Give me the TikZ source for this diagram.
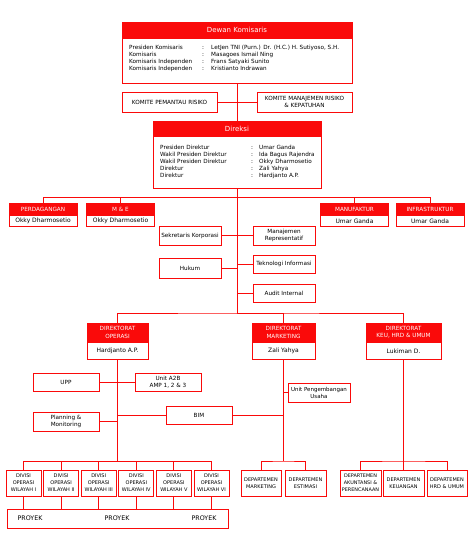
\documentclass[tikz,border=0pt]{standalone}
\usepackage{fontspec}
\setmainfont{DejaVu Sans}
\definecolor{orgred}{HTML}{FA0A0A}
\tikzset{
  link/.style={draw=orgred, line width=0.9pt},
  bodybox/.style={draw=orgred, line width=0.9pt, fill=white, inner sep=1pt, align=center, font=\fontsize{5.7}{7}\selectfont},
  headbox/.style={draw=orgred, line width=0.9pt, fill=orgred, text=white, inner sep=1pt, align=center, font=\fontsize{5.7}{7.3}\selectfont},
  plain/.style={inner sep=0pt, align=center, font=\fontsize{5.7}{7}\selectfont},
  smallbox/.style={bodybox, minimum height=26pt, font=\fontsize{5}{7}\selectfont},
}
\begin{document}
\begin{tikzpicture}[x=1pt, y=-1pt]
    \useasboundingbox (0,0) rectangle (474,550);
    % Draw the board of commissioners and its committees.
    \node[bodybox, minimum width=230pt, minimum height=61pt] (dekom) at (237,52.5) {};
    \node[headbox, minimum width=230pt, minimum height=16pt, anchor=north, font=\fontsize{7}{8}\selectfont] (dekomh) at (dekom.north) {Dewan Komisaris};
    \node[plain, anchor=west] (dekomlist) at (129,58.5) {\begin{tabular}{@{}p{73pt}@{}p{9pt}@{}l@{}}
      Presiden Komisaris & : & LetJen TNI (Purn.) Dr. (H.C.) H. Sutiyoso, S.H.\\
      Komisaris & : & Masagoes Ismail Ning\\
      Komisaris Independen & : & Frans Satyaki Sunito\\
      Komisaris Independen & : & Kristianto Indrawan
    \end{tabular}};
    \node[bodybox, minimum width=95pt, minimum height=20pt] (kpr) at (169.5,102) {KOMITE PEMANTAU RISIKO};
    \node[bodybox, minimum width=95pt, minimum height=20pt] (kmr) at (304.5,102) {KOMITE MANAJEMEN RISIKO\\\& KEPATUHAN};
    % Draw the board of directors.
    \node[bodybox, minimum width=168pt, minimum height=67pt] (direksi) at (237,154.5) {};
    \node[headbox, minimum width=168pt, minimum height=15pt, anchor=north, font=\fontsize{7}{8}\selectfont] (direksih) at (direksi.north) {Direksi};
    \node[plain, anchor=west] (direksilist) at (160,162) {\begin{tabular}{@{}p{91pt}@{}p{8pt}@{}l@{}}
      Presiden Direktur & : & Umar Ganda\\
      Wakil Presiden Direktur & : & Ida Bagus Rajendra\\
      Wakil Presiden Direktur & : & Okky Dharmosetio\\
      Direktur & : & Zali Yahya\\
      Direktur & : & Hardjanto A.P.
    \end{tabular}};
    % Business lines under the directors.
    \foreach \nm/\cx/\ttl/\who in {perd/43/PERDAGANGAN/Okky Dharmosetio, me/120.5/{M \& E}/Okky Dharmosetio, manu/354.5/MANUFAKTUR/Umar Ganda, infra/430/INFRASTRUKTUR/Umar Ganda} {
      \node[bodybox, minimum width=68pt, minimum height=23pt] (\nm) at (\cx,214.5) {};
      \node[headbox, minimum width=68pt, minimum height=12pt, anchor=north] (\nm h) at (\nm.north) {\ttl};
      \node[plain, font=\fontsize{6}{7}\selectfont] (\nm n) at ([yshift=5.5pt]\nm.south) {\who};
    }
    % Staff units along the main trunk.
    \node[bodybox, minimum width=62pt, minimum height=19pt] (sek) at (190,235.5) {Sekretaris Korporasi};
    \node[bodybox, minimum width=62pt, minimum height=20pt] (hukum) at (190,268) {Hukum};
    \node[bodybox, minimum width=62pt, minimum height=19pt] (manrep) at (284,235.5) {Manajemen\\Representatif};
    \node[bodybox, minimum width=62pt, minimum height=18pt] (ti) at (284,264) {Teknologi Informasi};
    \node[bodybox, minimum width=62pt, minimum height=18pt] (audit) at (284,293) {Audit Internal};
    % The three directorates.
    \foreach \nm/\cx/\bw/\ttl/\who in {dirop/117.5/61/{DIREKTORAT\\OPERASI}/Hardjanto A.P., dirmkt/283.5/63/{DIREKTORAT\\MARKETING}/Zali Yahya, dirkeu/403.5/75/{DIREKTORAT\\KEU, HRD \& UMUM}/Lukiman D.} {
      \node[bodybox, minimum width=\bw pt, minimum height=36pt] (\nm) at (\cx,341) {};
      \node[headbox, minimum width=\bw pt, minimum height=19pt, anchor=north] (\nm h) at (\nm.north) {\ttl};
      \node[plain, font=\fontsize{6}{7}\selectfont] (\nm n) at ([yshift=8.5pt]\nm.south) {\who};
    }
    % Units of the operations directorate.
    \node[bodybox, minimum width=66pt, minimum height=18pt] (upp) at (66,382) {UPP};
    \node[bodybox, minimum width=66pt, minimum height=18pt] (a2b) at (168,382) {Unit A2B\\AMP 1, 2 \& 3};
    \node[bodybox, minimum width=66pt, minimum height=19pt] (plan) at (66,421.5) {Planning \&\\Monitoring};
    \node[bodybox, minimum width=66pt, minimum height=18pt] (bim) at (199,415) {BIM};
    \node[bodybox, minimum width=62pt, minimum height=19pt, font=\fontsize{5.5}{7}\selectfont] (upu) at (319,392.5) {Unit Pengembangan\\Usaha};
    % Regional divisions and projects.
    \foreach \i/\rom in {1/I, 2/II, 3/III, 4/IV, 5/V, 6/VI}
      \node[smallbox, minimum width=35pt] (div\i) at ({23.5+37.6*(\i-1)},483) {DIVISI\\OPERASI\\WILAYAH \rom};
    \node[bodybox, minimum width=221pt, minimum height=19pt] (proyek) at (117.5,518.5) {};
    \foreach \i/\cx in {1/30, 2/117, 3/204}
      \node[plain, font=\fontsize{6.3}{7}\selectfont] (proyek\i) at (\cx,518.5) {PROYEK};
    % Departments.
    \node[smallbox, minimum width=40pt] (depmkt) at (261,483) {DEPARTEMEN\\MARKETING};
    \node[smallbox, minimum width=41pt] (depest) at (305.5,483) {DEPARTEMEN\\ESTIMASI};
    \node[smallbox, minimum width=41pt, font=\fontsize{4.9}{7}\selectfont] (depak) at (360.5,483) {DEPARTEMEN\\AKUNTANSI \&\\PERENCANAAN};
    \node[smallbox, minimum width=41pt] (depkeu) at (403.5,483) {DEPARTEMEN\\KEUANGAN};
    \node[smallbox, minimum width=40pt] (dephrd) at (447,483) {DEPARTEMEN\\HRD \& UMUM};
    % Draw the connectors.
    \coordinate (busA) at (237,197);
    \coordinate (busB) at (237,313);
    \coordinate (busC) at (117.5,461);
    \coordinate (busD) at (283.5,461);
    \coordinate (busE) at (403.5,461);
    \draw[link] (dekom.south) -- (direksi.north);
    \draw[link] (kpr.east) -- (kmr.west);
    \draw[link] (direksi.south) -- (busB);
    \draw[link] (perd.north) |- (busA) -| (infra.north);
    \draw[link] (me.north) |- (busA);
    \draw[link] (manu.north) |- (busA);
    \draw[link] (sek.east) -- (manrep.west);
    \draw[link] (hukum.east) -- (hukum.east -| busB);
    \draw[link] (ti.west) -- (ti.west -| busB);
    \draw[link] (audit.west) -- (audit.west -| busB);
    \draw[link] (dirop.north) |- (busB) -| (dirkeu.north);
    \draw[link] (dirmkt.north) |- (busB);
    \draw[link] (dirop.south) -- (busC);
    \draw[link] (upp.east) -- (a2b.west);
    \draw[link] (plan.east) -- (plan.east -| dirop.south);
    \draw[link] (bim.west) -- (bim.west -| dirop.south);
    \draw[link] (bim.east) -- (bim.east -| dirmkt.south);
    \draw[link] (div1.north) |- (busC) -| (div6.north);
    \foreach \i in {2,...,5}
      \draw[link] (div\i.north) |- (busC);
    \foreach \i in {1,...,6}
      \draw[link] (div\i.south) -- (div\i.south |- proyek.north);
    \draw[link] (dirmkt.south) -- (busD);
    \draw[link] (upu.west) -- (upu.west -| dirmkt.south);
    \draw[link] (depmkt.north) |- (busD) -| (depest.north);
    \draw[link] (dirkeu.south) -- (busE);
    \draw[link] (depak.north) |- (busE) -| (dephrd.north);
    \draw[link] (depkeu.north) -- (busE);
\end{tikzpicture}
\end{document}
